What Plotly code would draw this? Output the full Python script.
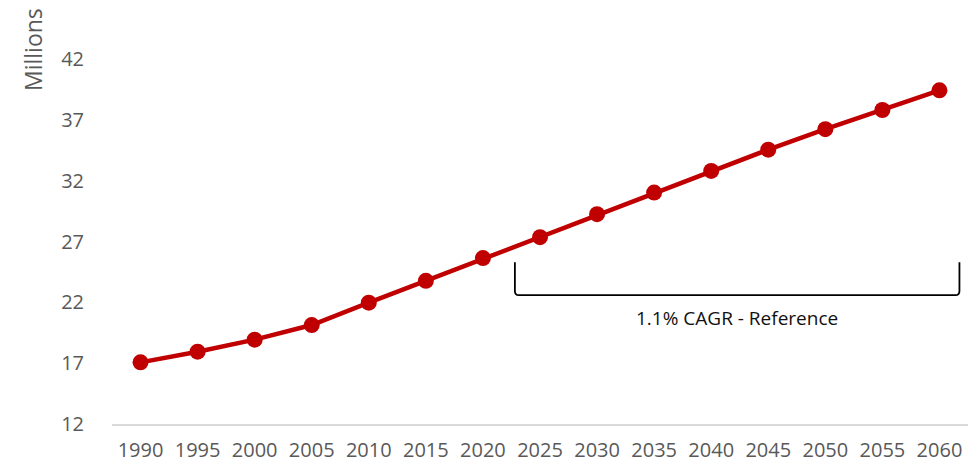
import plotly.graph_objects as go

# Population series, millions
years = [1990, 1995, 2000, 2005, 2010, 2015, 2020, 2025, 2030, 2035,
         2040, 2045, 2050, 2055, 2060]
population = [17.07, 17.95, 18.94, 20.14, 21.98, 23.78, 25.65, 27.37,
              29.26, 31.04, 32.82, 34.57, 36.25, 37.83, 39.45]
y_ticks = [12, 17, 22, 27, 32, 37, 42]

# Projection span marked by the bracket
bracket_label = "1.1% CAGR - Reference"
bracket_x = [2022.8, 2061.75]
bracket_y = [25.3, 22.6]

FONT = "Open Sans, Lato, Liberation Sans, sans-serif"
GREY = "#595959"
RED = "#C00000"

fig = go.Figure()
fig.add_trace(go.Scatter(
    x=years, y=population, mode="lines+markers",
    line=dict(color=RED, width=4.5),
    marker=dict(color=RED, size=16),
    showlegend=False, hoverinfo="x+y",
))

# Bracket with rounded corners under the projection years
x0, x1 = bracket_x
ytop, ybot = bracket_y
rx, ry = 0.35, 0.35
path = (f"M {x0},{ytop} L {x0},{ybot + ry} Q {x0},{ybot} {x0 + rx},{ybot} "
        f"L {x1 - rx},{ybot} Q {x1},{ybot} {x1},{ybot + ry} L {x1},{ytop}")
fig.add_shape(type="path", path=path, xref="x", yref="y",
              line=dict(color="black", width=1.8))
fig.add_annotation(x=(x0 + x1) / 2, y=ybot - 1.85, xref="x", yref="y",
                   text=bracket_label, showarrow=False,
                   font=dict(family=FONT, size=19, color="#111111"))

fig.add_annotation(text="Millions", textangle=-90, xref="paper", yref="paper",
                   x=-0.092, y=0.962, xanchor="center", yanchor="middle",
                   showarrow=False, font=dict(family=FONT, size=23, color=GREY))

fig.update_xaxes(
    range=[1987.5, 2062.5], tickvals=years, ticktext=[str(v) for v in years],
    showgrid=False, zeroline=False, showline=True, linecolor="#D9D9D9",
    linewidth=1.5, ticks="", ticklabelstandoff=7,
    tickfont=dict(family=FONT, size=20, color=GREY),
)
fig.update_yaxes(
    range=[12, 44], tickvals=y_ticks, showgrid=False, zeroline=False,
    showline=False, ticks="", ticklabelstandoff=27,
    tickfont=dict(family=FONT, size=20, color=GREY),
)
fig.update_layout(
    width=974, height=470, plot_bgcolor="white", paper_bgcolor="white",
    margin=dict(l=112, r=5.5, t=35, b=46),
)
fig.write_html("out.html")
